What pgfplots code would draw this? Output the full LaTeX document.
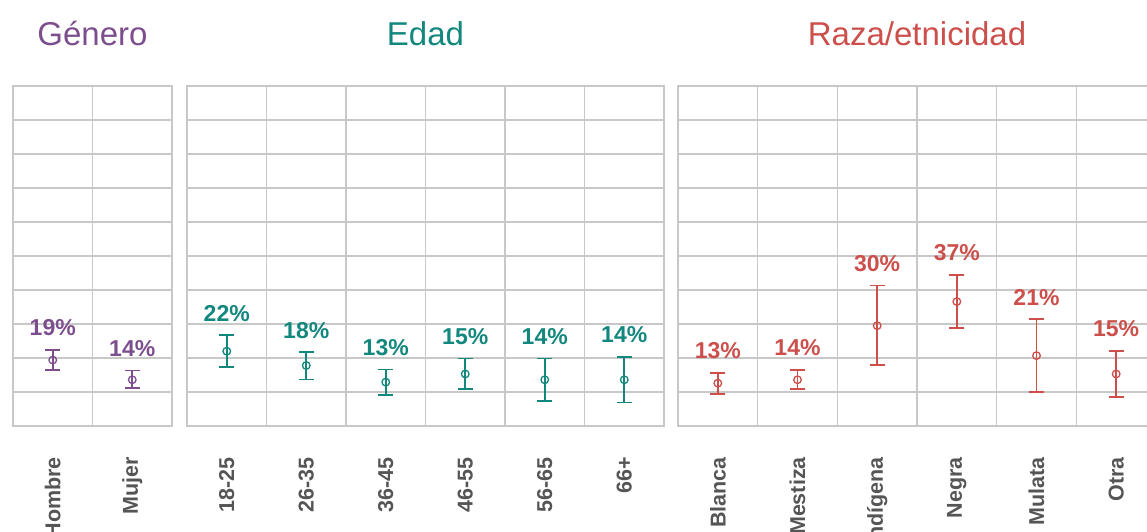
\documentclass[border=0pt]{standalone}
\usepackage{pgfplots}
\usepackage{pgfplotstable}
\pgfplotsset{compat=1.18}
\usepackage{fontspec}
\setmainfont{Liberation Sans}
\definecolor{cpur}{HTML}{7D4E8E}
\definecolor{cteal}{HTML}{12877E}
\definecolor{cred}{HTML}{CC4F4B}
\definecolor{cgrid}{HTML}{C8C8C8}
\definecolor{ctick}{HTML}{555555}

\pgfplotstableread{
x y ep em lab
0 0.194 0.030 0.030 19
1 0.136 0.027 0.025 14
}\tgen
\pgfplotstableread{
x y ep em lab
0 0.220 0.047 0.046 22
1 0.178 0.039 0.041 18
2 0.129 0.037 0.038 13
3 0.153 0.045 0.045 15
4 0.136 0.062 0.062 14
5 0.136 0.067 0.067 14
}\tedad
\pgfplotstableread{
x y ep em lab
0 0.126 0.030 0.031 13
1 0.136 0.029 0.027 14
2 0.295 0.118 0.116 30
3 0.366 0.079 0.078 37
4 0.207 0.107 0.107 21
5 0.153 0.068 0.067 15
}\traza

\pgfplotsset{
  panel/.style={
    scale only axis, height=340pt, ymin=0, ymax=1, xmin=-0.5,
    ytick={0,0.1,0.2,0.3,0.4,0.5,0.6,0.7,0.8,0.9,1}, yticklabels={},
    ymajorgrids, xminorgrids,
    grid style={cgrid, line width=1.1pt},
    minor grid style={cgrid, line width=1.1pt},
    axis line style={cgrid, line width=1.1pt},
    major tick length=0pt, minor tick length=0pt,
    xticklabel style={rotate=90, anchor=east, inner sep=0pt,
      font=\fontsize{21.5}{24}\selectfont\bfseries, text=ctick},
    xticklabel shift=31pt,
    title style={at={(0.5,1)}, anchor=base, yshift=34.5pt, inner sep=0pt,
      font=\fontsize{33}{38}\selectfont},
    clip=false,
  },
  ebar/.style={only marks, mark=o, mark size=3.8pt, color=#1,
    mark options={line width=1.3pt, #1},
    error bars/.cd, y dir=both, y explicit,
    error bar style={line width=1.6pt, #1},
    error mark=-,
    error mark options={rotate=90, line width=1.6pt, mark size=7.5pt, #1}},
  lbl/.style={draw=none, mark=none, nodes near coords={\pgfplotspointmeta\%},
    point meta=explicit symbolic,
    every node near coord/.append style={anchor=base, yshift=14pt, inner sep=0pt,
      font=\fontsize{23}{25}\selectfont\bfseries, text=#1}},
}

\begin{document}
\begin{tikzpicture}
\begin{axis}[panel, at={(13pt,105pt)}, anchor=south west, width=159pt, xmax=1.5,
  xtick={0,1}, xticklabels={Hombre,Mujer}, minor xtick={0.5},
  title={\textcolor{cpur}{Género}}]
\addplot[ebar=cpur] table[x=x, y=y, y error plus=ep, y error minus=em] {\tgen};
\addplot[lbl=cpur] table[x=x, y expr=\thisrow{y}+\thisrow{ep}, meta=lab] {\tgen};
\end{axis}
\begin{axis}[panel, at={(187pt,105pt)}, anchor=south west, width=477pt, xmax=5.5,
  xtick={0,1,2,3,4,5}, xticklabels={18-25,26-35,36-45,46-55,56-65,66+},
  minor xtick={0.5,1.5,2.5,3.5,4.5},
  title={\textcolor{cteal}{Edad}}]
\addplot[ebar=cteal] table[x=x, y=y, y error plus=ep, y error minus=em] {\tedad};
\addplot[lbl=cteal] table[x=x, y expr=\thisrow{y}+\thisrow{ep}, meta=lab] {\tedad};
\end{axis}
\begin{axis}[panel, at={(678pt,105pt)}, anchor=south west, width=478pt, xmax=5.5,
  xtick={0,1,2,3,4,5}, xticklabels={Blanca,Mestiza,Indígena,Negra,Mulata,Otra},
  minor xtick={0.5,1.5,2.5,3.5,4.5},
  title={\textcolor{cred}{Raza/etnicidad}}]
\addplot[ebar=cred] table[x=x, y=y, y error plus=ep, y error minus=em] {\traza};
\addplot[lbl=cred] table[x=x, y expr=\thisrow{y}+\thisrow{ep}, meta=lab] {\traza};
\end{axis}
\pgfresetboundingbox
\path[use as bounding box] (0,0) rectangle (1147pt,531pt);
\end{tikzpicture}
\end{document}
